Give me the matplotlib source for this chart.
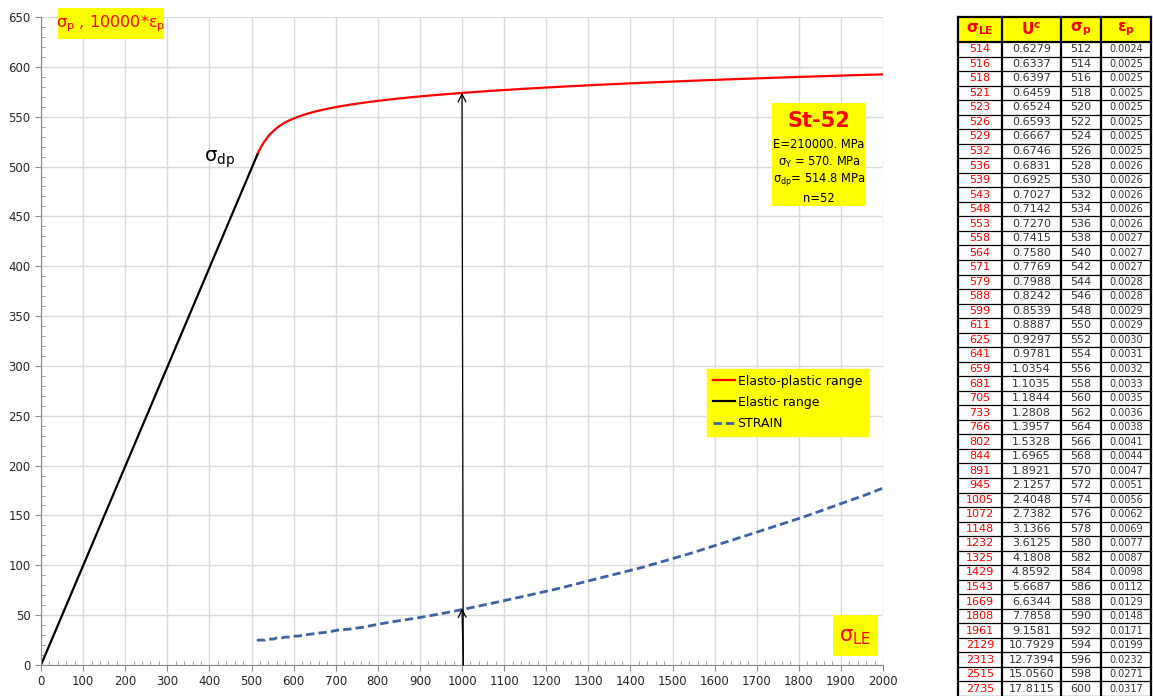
import matplotlib
matplotlib.use("Agg")
import matplotlib.pyplot as plt
from matplotlib import font_manager
from matplotlib.patches import Rectangle
import numpy as np

# ---------------- data ----------------
sigma_le = [514, 516, 518, 521, 523, 526, 529, 532, 536, 539, 543, 548, 553, 558, 564,
            571, 579, 588, 599, 611, 625, 641, 659, 681, 705, 733, 766, 802, 844, 891,
            945, 1005, 1072, 1148, 1232, 1325, 1429, 1543, 1669, 1808, 1961, 2129, 2313,
            2515, 2735]
u_c = ["0.6279", "0.6337", "0.6397", "0.6459", "0.6524", "0.6593", "0.6667", "0.6746",
       "0.6831", "0.6925", "0.7027", "0.7142", "0.7270", "0.7415", "0.7580", "0.7769",
       "0.7988", "0.8242", "0.8539", "0.8887", "0.9297", "0.9781", "1.0354", "1.1035",
       "1.1844", "1.2808", "1.3957", "1.5328", "1.6965", "1.8921", "2.1257", "2.4048",
       "2.7382", "3.1366", "3.6125", "4.1808", "4.8592", "5.6687", "6.6344", "7.7858",
       "9.1581", "10.7929", "12.7394", "15.0560", "17.8115"]
sigma_p = [512, 514, 516, 518, 520, 522, 524, 526, 528, 530, 532, 534, 536, 538, 540,
           542, 544, 546, 548, 550, 552, 554, 556, 558, 560, 562, 564, 566, 568, 570,
           572, 574, 576, 578, 580, 582, 584, 586, 588, 590, 592, 594, 596, 598, 600]
eps_p = ["0.0024", "0.0025", "0.0025", "0.0025", "0.0025", "0.0025", "0.0025", "0.0025",
         "0.0026", "0.0026", "0.0026", "0.0026", "0.0026", "0.0027", "0.0027", "0.0027",
         "0.0028", "0.0028", "0.0029", "0.0029", "0.0030", "0.0031", "0.0032", "0.0033",
         "0.0035", "0.0036", "0.0038", "0.0041", "0.0044", "0.0047", "0.0051", "0.0056",
         "0.0062", "0.0069", "0.0077", "0.0087", "0.0098", "0.0112", "0.0129", "0.0148",
         "0.0171", "0.0199", "0.0232", "0.0271", "0.0317"]
elastic_x = [0, 514]
elastic_y = [0, 512]
arrow_x = 1000
arrow_top = 574
arrow_strain = 57
x_ticks = list(range(0, 2001, 100))
y_ticks = list(range(0, 651, 50))
headers = ["σ$_\\mathbf{LE}$", "U$^\\mathbf{c}$", "σ$_\\mathbf{p}$", "ε$_\\mathbf{p}$"]

# ---------------- fonts ----------------
avail = {f.name for f in font_manager.fontManager.ttflist}
narrow = "Liberation Sans Narrow" if "Liberation Sans Narrow" in avail else "DejaVu Sans"
plt.rcParams['font.family'] = [narrow, 'DejaVu Sans']
plt.rcParams['mathtext.fontset'] = 'custom'
plt.rcParams['mathtext.rm'] = 'DejaVu Sans'
plt.rcParams['mathtext.bf'] = 'DejaVu Sans:bold'

W, H = 1153, 696
fig = plt.figure(figsize=(W / 100, H / 100), dpi=100)

def fx(px):
    return px / W

def fy(py):
    return 1 - py / H

ax = fig.add_axes([fx(41), fy(665), fx(883) - fx(41), fy(17) - fy(665)])
ax.set_xlim(0, 2000)
ax.set_ylim(0, 650)
ax.set_xticks(x_ticks)
ax.set_yticks(y_ticks)
ax.set_xticks(np.arange(0, 2001, 20), minor=True)
ax.set_yticks(np.arange(0, 651, 10), minor=True)
ax.grid(True, which='major', color='#dadada', lw=1.0)
ax.set_axisbelow(True)
for s in ['top', 'right']:
    ax.spines[s].set_visible(False)
for s in ['left', 'bottom']:
    ax.spines[s].set_color('#8c8c8c')
ax.tick_params(which='major', direction='out', length=4, color='#8c8c8c', labelsize=8.5,
               labelcolor='#262626')
ax.tick_params(which='minor', direction='in', length=3, color='#8c8c8c')

sle = np.array(sigma_le, dtype=float)
sp = np.array(sigma_p, dtype=float)
ep = np.array([float(v) for v in eps_p])

ax.plot(sle, sp, color='#ff0000', lw=1.6, label='Elasto-plastic range', clip_on=True)
ax.plot(elastic_x, elastic_y, color='black', lw=1.6, label='Elastic range')
ax.plot(sle, 10000 * ep, color='#3c64a0', lw=2.0, ls=(0, (3, 1.5)), label='STRAIN')

ax.annotate('', xy=(arrow_x, arrow_top), xytext=(arrow_x + 3, 0),
            arrowprops=dict(arrowstyle='->', color='black', lw=0.9,
                            mutation_scale=14, shrinkA=0, shrinkB=0))
ax.annotate('', xy=(arrow_x, arrow_strain), xytext=(arrow_x + 3, 0),
            arrowprops=dict(arrowstyle='->', color='black', lw=0.9,
                            mutation_scale=14, shrinkA=0, shrinkB=0))

ax.text(425, 507, "σ$_{\\mathrm{dp}}$", fontsize=14, ha='center', va='center',
        family='DejaVu Sans')

leg = ax.legend(loc='upper left', bbox_to_anchor=((707 - 41) / 842, (665 - 369) / 648),
                frameon=True, fancybox=False, facecolor='#ffff00', edgecolor='#ffff00',
                framealpha=1, fontsize=9, handlelength=1.8, handletextpad=0.2,
                borderpad=0.45, labelspacing=0.65, borderaxespad=0)

# top-left label
fig.patches.append(Rectangle((fx(58), fy(39)), fx(164) - fx(58), fy(8) - fy(39),
                             transform=fig.transFigure, facecolor='#ffff00', edgecolor='none',
                             zorder=5))
fig.text(fx(111), fy(24), "σ$_\\mathrm{p}$ , 10000*ε$_\\mathrm{p}$", color='#ff0000',
         fontsize=11.5, ha='center', va='center', zorder=6, family='DejaVu Sans')

# St-52 box
fig.patches.append(Rectangle((fx(772), fy(206)), fx(866) - fx(772), fy(103) - fy(206),
                             transform=fig.transFigure, facecolor='#ffff00', edgecolor='none',
                             zorder=5))
fig.text(fx(819), fy(121), "St-52", color='#ff0000', fontsize=15, fontweight='bold',
         ha='center', va='center', zorder=6)
lines = ["E=210000. MPa", "σ$_\\mathrm{Y}$ = 570. MPa", "σ$_\\mathrm{dp}$= 514.8 MPa", "n=52"]
for i, t in enumerate(lines):
    fig.text(fx(819), fy(144 + i * 18), t, color='black', fontsize=8.3, ha='center',
             va='center', zorder=6)

# sigma_LE box
fig.patches.append(Rectangle((fx(833), fy(656)), fx(878) - fx(833), fy(615) - fy(656),
                             transform=fig.transFigure, facecolor='#ffff00', edgecolor='none',
                             zorder=5))
fig.text(fx(855), fy(637), "σ$_{\\mathrm{LE}}$", color='#ff0000', fontsize=15,
         ha='center', va='center', zorder=6, family='DejaVu Sans')

# ---------------- table ----------------
col_edges = [958, 1002, 1061, 1101, 1151]
head_top, head_bot = 17, 42
row_h = (696 - head_bot) / len(sigma_le)

for c in range(4):
    fig.patches.append(Rectangle((fx(col_edges[c]), fy(head_bot)),
                                 fx(col_edges[c + 1]) - fx(col_edges[c]),
                                 fy(head_top) - fy(head_bot), transform=fig.transFigure,
                                 facecolor='#ffff00', edgecolor='none', zorder=1))
    fig.text((fx(col_edges[c]) + fx(col_edges[c + 1])) / 2, fy((head_top + head_bot) / 2),
             headers[c], color='#ff0000', fontsize=11, fontweight='bold', ha='center',
             va='center', zorder=3, family='DejaVu Sans')

for x in col_edges:
    fig.add_artist(plt.Line2D([fx(x), fx(x)], [fy(head_top), fy(696)], color='black', lw=1.6,
                              transform=fig.transFigure))
fig.add_artist(plt.Line2D([fx(col_edges[0]), fx(col_edges[-1])], [fy(head_top), fy(head_top)],
                          color='black', lw=1.6, transform=fig.transFigure))
fig.add_artist(plt.Line2D([fx(col_edges[0]), fx(col_edges[-1])], [fy(head_bot), fy(head_bot)],
                          color='black', lw=1.6, transform=fig.transFigure))
for r in range(1, len(sigma_le) + 1):
    y = head_bot + r * row_h
    fig.add_artist(plt.Line2D([fx(col_edges[0]), fx(col_edges[-1])], [fy(y), fy(y)],
                              color='black', lw=0.9, transform=fig.transFigure))

for r in range(len(sigma_le)):
    yc = fy(head_bot + (r + 0.5) * row_h)
    vals = [str(sigma_le[r]), u_c[r], str(sigma_p[r]), eps_p[r]]
    colors = ['#ff0000', '#333333', '#333333', '#333333']
    sizes = [8, 8, 8, 7]
    for c in range(4):
        fig.text((fx(col_edges[c]) + fx(col_edges[c + 1])) / 2, yc, vals[c], color=colors[c],
                 fontsize=sizes[c], ha='center', va='center', family='DejaVu Sans')

fig.savefig("out.png", dpi=100)
